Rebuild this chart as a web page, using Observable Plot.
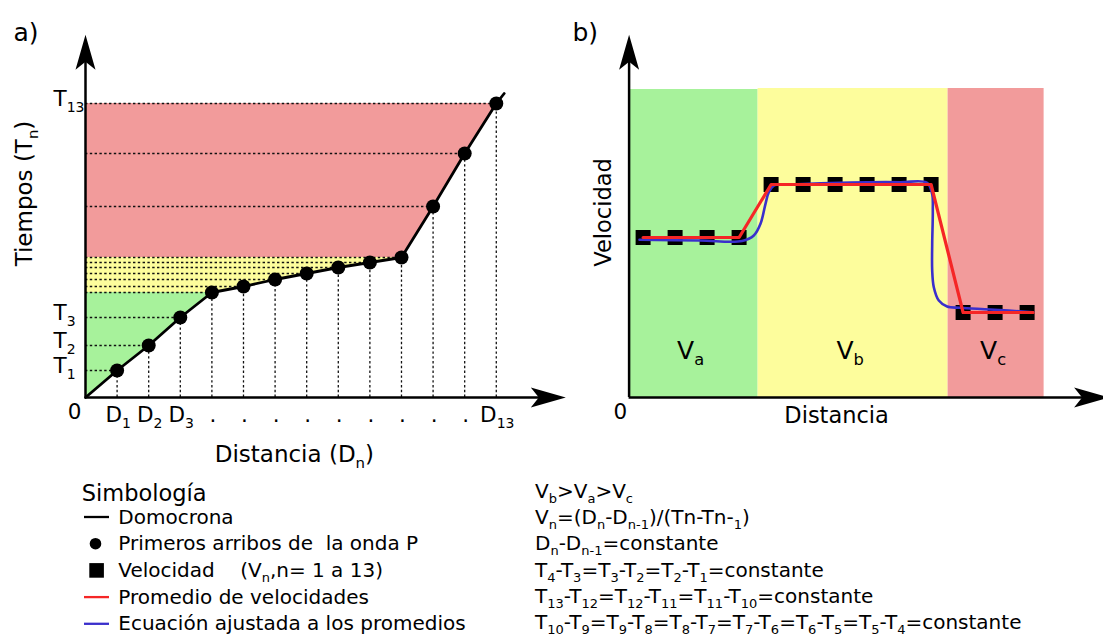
<!DOCTYPE html>
<html><head><meta charset="utf-8">
<script src="https://cdn.jsdelivr.net/npm/d3@7"></script>
<script src="https://cdn.jsdelivr.net/npm/@observablehq/plot@0.6"></script>
<style>
html,body{margin:0;padding:0;background:#fff;overflow:hidden}
#fig{position:relative;width:1103px;height:638px;font-family:"DejaVu Sans",sans-serif;color:#000}
#fig svg{overflow:visible}
#fig text{white-space:pre}
.panel{position:absolute;top:0}
</style></head><body>
<div id="fig"><div id="pa" class="panel" style="left:0;width:580px"></div><div id="pb" class="panel" style="left:560px;width:550px"></div></div>
<script>
// ---------------- Panel a: domocrona (distance index vs arrival time) ----------------
const distIndex    = [1, 2, 3, 4, 5, 6, 7, 8, 9, 10, 11, 12, 13];
const arrivalTimes = [27, 52, 80, 105, 111, 118, 124, 130, 135, 140, 191, 244, 294];
const domocronaEnd = {D: 13.25, T: 304};           // where the drawn line stops past P13
const yTickIndex   = [1, 2, 3, 13];
const xTickLabels  = ["D_{1}", "D_{2}", "D_{3}", ".", ".", ".", ".", ".", ".", ".", ".", ".", "D_{13}"];
const segmentBreaks = [4, 10];                      // T4 and T10 end the first two segments

// ---------------- Panel b: velocities ----------------
const velDist  = [14, 46, 78, 110, 142, 174, 206, 238, 270, 302, 334, 366, 398];
const velValue = [160, 160, 160, 160, 213, 213, 213, 213, 213, 213, 85, 85, 85];
const avgDist  = [14, 110, 142, 302, 334, 404];
const avgValue = [160, 160, 213, 213, 85, 85];
const fitDist  = [10.4, 71, 113, 124.7, 131.4, 136.4, 139.7, 144.7, 161.4, 221, 271, 298, 303, 303.7, 303.1, 303.1, 304.7, 309.7, 318, 331, 361, 404];
const fitValue = [157.7, 157, 156.5, 162, 173.7, 193.7, 205.3, 212, 213, 215, 215.3, 214.7, 203.7, 187, 153.7, 127, 110.3, 97, 91, 89.7, 88, 85.3];
const bandNames = ["V_{a}", "V_{b}", "V_{c}"];
const bandStart = [0, 129, 319];
const bandEnd   = [129, 319, 415];
const bandTop   = [308, 309, 309];

// ---------------- Legend / notes ----------------
const legendTitle  = "Simbología";
const legendLabels = ["Domocrona", "Primeros arribos de  la onda P", "Velocidad    (V_{n},n= 1 a 13)", "Promedio de velocidades", "Ecuación ajustada a los promedios"];
const legendKinds  = ["line", "dot", "square", "line", "line"];
const equations = [
  "V_{b}>V_{a}>V_{c}",
  "V_{n}=(D_{n}-D_{n-1})/(Tn-Tn-_{1})",
  "D_{n}-D_{n-1}=constante",
  "T_{4}-T_{3}=T_{3}-T_{2}=T_{2}-T_{1}=constante",
  "T_{13}-T_{12}=T_{12}-T_{11}=T_{11}-T_{10}=constante",
  "T_{10}-T_{9}=T_{9}-T_{8}=T_{8}-T_{7}=T_{7}-T_{6}=T_{6}-T_{5}=T_{5}-T_{4}=constante"
];

// colours
const GREEN = "#a7f29b", YELLOW = "#fdfd9c", PINK = "#f29b9b", RED = "#f52626", BLUE = "#3a2fcc";
const zoneColors = [GREEN, YELLOW, PINK];
const legendColors = ["#000", "#000", "#000", RED, BLUE];

// ---------- helpers ----------
const NS = "http://www.w3.org/2000/svg";
function subify(el, str) {
  while (el.firstChild) el.removeChild(el.firstChild);
  el.setAttribute("xml:space", "preserve");
  el.style.whiteSpace = "pre";
  const re = /_\{([^}]*)\}/g; let last = 0, m, prevSub = false;
  const add = (txt, sub) => {
    if (!txt) return;
    const t = document.createElementNS(NS, "tspan"); t.textContent = txt;
    if (sub) { t.setAttribute("font-size", "65%"); if (!prevSub) t.setAttribute("dy", "0.38em"); }
    else if (prevSub) t.setAttribute("dy", "-0.247em");
    prevSub = sub; el.appendChild(t);
  };
  while ((m = re.exec(str))) { add(str.slice(last, m.index), false); add(m[1], true); last = re.lastIndex; }
  add(str.slice(last), false);
}
function fixSubs(svg) {
  svg.querySelectorAll("text").forEach(t => { if (t.textContent.includes("_{")) subify(t, t.textContent); });
  return svg;
}
// filled "stealth" arrow head, tip at the anchor point, pointing up
const stealth = {draw(ctx, size) {
  const s = Math.sqrt(size / Math.PI) / 10;
  ctx.moveTo(0, 0); ctx.lineTo(10 * s, 35 * s); ctx.lineTo(0, 27 * s); ctx.lineTo(-10 * s, 35 * s); ctx.closePath();
}};

// ---------- Panel a ----------
const ptsA = distIndex.map((d, i) => ({D: d, T: arrivalTimes[i], label: xTickLabels[i]}));
const origin = {D: 0, T: 0};
const zonesA = [
  [origin, ...ptsA.slice(0, segmentBreaks[0])],
  ptsA.slice(segmentBreaks[0] - 1, segmentBreaks[1]),
  ptsA.slice(segmentBreaks[1] - 1)
];
const xMaxA = 15.2, yMax = 362.7;
const dotted = {stroke: "#111", strokeWidth: 1.3, strokeDasharray: "2.4,2.4"};

const plotA = Plot.plot({
  width: 580, height: 470, marginLeft: 85, marginRight: 14.7, marginTop: 34.3, marginBottom: 73,
  x: {domain: [0, xMaxA], axis: null}, y: {domain: [0, yMax], axis: null},
  style: {fontFamily: "DejaVu Sans", fontSize: "21px", overflow: "visible", color: "#000"},
  marks: [
    ...zonesA.map((z, i) => Plot.areaX(z, {y: "T", x1: 0, x2: "D", fill: zoneColors[i]})),
    Plot.ruleY(ptsA, {y: "T", x1: 0, x2: "D", ...dotted}),
    Plot.ruleX(ptsA, {x: "D", y1: 0, y2: "T", ...dotted}),
    Plot.line([origin, ...ptsA, domocronaEnd], {x: "D", y: "T", stroke: "#000", strokeWidth: 2.8}),
    Plot.dot(ptsA, {x: "D", y: "T", r: 7, fill: "#000"}),
    Plot.ruleX([0], {y1: 0, y2: yMax - 20, stroke: "#000", strokeWidth: 2.5}),
    Plot.ruleY([0], {x1: 0, x2: xMaxA - 0.6, stroke: "#000", strokeWidth: 2.5}),
    Plot.dot([[0, yMax]], {x: d => d[0], y: d => d[1], symbol: stealth, r: 10, fill: "#000", stroke: null}),
    Plot.dot([[xMaxA, 0]], {x: d => d[0], y: d => d[1], symbol: stealth, r: 10, rotate: 90, fill: "#000", stroke: null}),
    Plot.text(yTickIndex, {x: 0, y: i => arrivalTimes[i - 1], text: i => `T_{${i}}`, textAnchor: "start", dx: -32, dy: -4, fontSize: 21.5}),
    Plot.text(ptsA, {x: "D", y: 0, text: "label", dx: 1, dy: 18, fontSize: 21.5}),
    Plot.text(["0"], {x: 0, y: 0, text: d => d, dx: -11, dy: 14.3, fontSize: 21.5}),
    Plot.text(["Tiempos (T_{n})"], {x: 0, y: 204, text: d => d, rotate: -90, dx: -60.4, fontSize: 23}),
    Plot.text(["Distancia (D_{n})"], {x: 6.61, y: 0, text: d => d, dy: 57.6, fontSize: 23}),
    Plot.text(["a)"], {frameAnchor: "top-left", text: d => d, textAnchor: "start", dx: -72, dy: -11.5, fontSize: 25})
  ]
});
document.getElementById("pa").appendChild(fixSubs(plotA));

// ---------- Panel b ----------
const squares = velDist.map((d, i) => ({x: d, v: velValue[i]}));
const avgLine = avgDist.map((d, i) => ({x: d, v: avgValue[i]}));
const fitLine = fitDist.map((d, i) => ({x: d, v: fitValue[i]}));
const bands = bandNames.map((n, i) => ({name: n, x1: bandStart[i], x2: bandEnd[i], top: bandTop[i], color: zoneColors[i]}));
const xMaxB = 480;

const plotB = Plot.plot({
  width: 550, height: 470, marginLeft: 68.6, marginRight: 550 - 68.6 - xMaxB, marginTop: 34.3, marginBottom: 73,
  x: {domain: [0, xMaxB], axis: null}, y: {domain: [0, yMax], axis: null},
  color: {type: "identity"},
  style: {fontFamily: "DejaVu Sans", fontSize: "21px", overflow: "visible", color: "#000"},
  marks: [
    Plot.rect(bands, {x1: "x1", x2: "x2", y1: 0, y2: "top", fill: "color"}),
    Plot.text(bands, {x: d => (d.x1 + d.x2) / 2, y: 0, text: "name", dx: -3, dy: -47, fontSize: 25}),
    Plot.dot(squares, {x: "x", y: "v", symbol: "square", r: 8.46, fill: "#000"}),
    Plot.line(fitLine, {x: "x", y: "v", stroke: BLUE, strokeWidth: 2.6, curve: "catmull-rom"}),
    Plot.line(avgLine, {x: "x", y: "v", stroke: RED, strokeWidth: 3.2}),
    Plot.ruleX([0], {y1: 0, y2: yMax - 20, stroke: "#000", strokeWidth: 2.5}),
    Plot.ruleY([0], {x1: 0, x2: xMaxB - 20, stroke: "#000", strokeWidth: 2.5}),
    Plot.dot([[0, yMax]], {x: d => d[0], y: d => d[1], symbol: stealth, r: 10, fill: "#000", stroke: null}),
    Plot.dot([[xMaxB, 0]], {x: d => d[0], y: d => d[1], symbol: stealth, r: 10, rotate: 90, fill: "#000", stroke: null}),
    Plot.text(["0"], {x: 0, y: 0, text: d => d, dx: -8.8, dy: 14.3, fontSize: 21.5}),
    Plot.text(["Velocidad"], {x: 0, y: 185, text: d => d, rotate: -90, dx: -25.8, fontSize: 22.5}),
    Plot.text(["Distancia"], {x: 207.5, y: 0, text: d => d, dy: 18.5, fontSize: 22.5}),
    Plot.text(["b)"], {frameAnchor: "top-left", text: d => d, textAnchor: "start", dx: -56.6, dy: -11.5, fontSize: 25})
  ]
});
document.getElementById("pb").appendChild(fixSubs(plotB));

// ---------- Legend and notes (below the panels) ----------
const ov = d3.select("#fig").append("svg")
  .attr("width", 1103).attr("height", 638)
  .style("position", "absolute").style("left", 0).style("top", 0)
  .style("font-family", "'DejaVu Sans'").style("font-size", "20px");
ov.append("text").attr("x", 81.7).attr("y", 500.5).style("font-size", "22.5px").text(legendTitle);
legendLabels.forEach((lab, i) => {
  const base = 523.5 + i * 26.7, cy = base - 6.5;
  const g = ov.append("g");
  if (legendKinds[i] === "line") g.append("line").attr("x1", 84).attr("x2", 109).attr("y1", cy).attr("y2", cy).attr("stroke", legendColors[i]).attr("stroke-width", 2.3);
  else if (legendKinds[i] === "dot") g.append("circle").attr("cx", 95.5).attr("cy", cy).attr("r", 5.8).attr("fill", "#000");
  else g.append("rect").attr("x", 89.3).attr("y", cy - 7.3).attr("width", 14.6).attr("height", 14.6).attr("fill", "#000");
  const t = g.append("text").attr("x", 118.3).attr("y", base).node();
  subify(t, lab);
});
equations.forEach((eq, i) => {
  const t = ov.append("text").attr("x", 535).attr("y", 498 + i * 26.2).node();
  subify(t, eq);
});
</script>
</body></html>
